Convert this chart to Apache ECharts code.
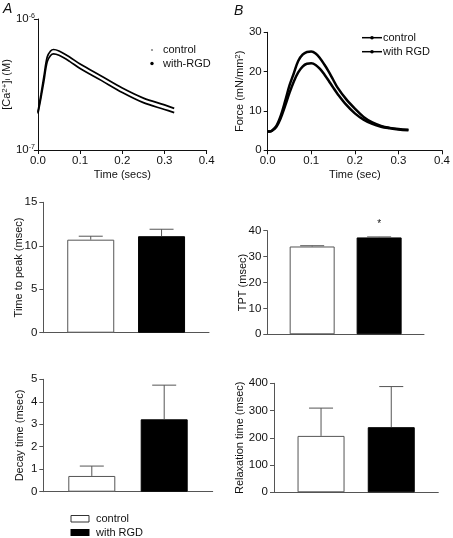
<!DOCTYPE html>
<html><head><meta charset="utf-8">
<script src="https://cdn.jsdelivr.net/npm/echarts@6/dist/echarts.min.js"></script>
<style>html,body{margin:0;padding:0;background:#fff}#c{width:453px;height:538px}</style>
</head><body><div id="c"></div>
<script>
// ---- Panel A: [Ca2+]i transients (M) ----
const caTime = [0, 0.007, 0.014, 0.022, 0.03, 0.037, 0.05, 0.075, 0.1, 0.15, 0.2, 0.25, 0.3, 0.323];
const caControl = [1.95e-7, 2.63e-7, 3.61e-7, 5.13e-7, 5.70e-7, 5.85e-7, 5.70e-7, 5.13e-7, 4.53e-7, 3.67e-7, 2.97e-7, 2.49e-7, 2.21e-7, 2.08e-7];
const caRGD = [1.90e-7, 2.48e-7, 3.33e-7, 4.72e-7, 5.27e-7, 5.42e-7, 5.28e-7, 4.75e-7, 4.19e-7, 3.40e-7, 2.75e-7, 2.30e-7, 2.04e-7, 1.93e-7];
// ---- Panel B: Force (mN/mm2) ----
const fTime = [0, 0.005, 0.01, 0.02, 0.03, 0.04, 0.05, 0.06, 0.07, 0.08, 0.09, 0.1, 0.11, 0.12, 0.13, 0.14, 0.15, 0.16, 0.18, 0.2, 0.22, 0.24, 0.26, 0.28, 0.3, 0.323];
const fControl = [4.8, 4.8, 5.0, 6.2, 8.8, 12.5, 16.5, 19.6, 22.7, 24.3, 25.0, 25.1, 24.6, 23.4, 21.8, 20.0, 18.0, 16.0, 13.0, 10.6, 8.5, 7.1, 6.2, 5.7, 5.4, 5.2];
const fRGD = [4.8, 4.8, 5.0, 6.0, 8.2, 11.3, 14.6, 17.5, 19.8, 21.3, 22.0, 22.1, 21.7, 20.7, 19.3, 17.7, 16.0, 14.4, 11.6, 9.4, 7.8, 6.7, 6.0, 5.6, 5.3, 5.1];
// ---- Bar panels ----
const groups = ['control', 'with RGD'];
const ttpMean = [10.7, 11.1], ttpErr = [0.4, 0.8];
const tptMean = [33.9, 37.4], tptErr = [0.3, 0.2];
const decayMean = [0.70, 3.22], decayErr = [0.44, 1.52];
const relaxMean = [207, 239], relaxErr = [102, 149];
const tptSignif = [null, 42.5];

const FONT = 'Liberation Sans, Arial, sans-serif';
const chart = echarts.init(document.getElementById('c'), null, {renderer: 'canvas'});

const pairs = (xs, ys) => xs.map((x, i) => [x, ys[i]]);
const barData = (means) => means.map((m, i) => ({value: [i + 1, m], itemStyle: i === 0 ? {color: '#fff', borderColor: '#555', borderWidth: 1} : {color: '#000', borderColor: '#000', borderWidth: 1}}));
const errData = (means, errs) => means.map((m, i) => [i + 1, m, errs[i]]);

function errRender(params, api) {
  const x = api.value(0), m = api.value(1), e = api.value(2);
  const p0 = api.coord([x, m]), p1 = api.coord([x, m + e]);
  const st = {stroke: '#555', lineWidth: 1};
  return {type: 'group', children: [
    {type: 'line', shape: {x1: p0[0], y1: p0[1], x2: p1[0], y2: p1[1]}, style: st},
    {type: 'line', shape: {x1: p1[0] - 12, y1: p1[1], x2: p1[0] + 12, y2: p1[1]}, style: st}
  ]};
}
function starRender(params, api) {
  const p = api.coord([api.value(0), api.value(1)]);
  return {type: 'text', x: p[0], y: p[1], style: {text: '*', fontSize: 10, fontFamily: FONT, fill: '#111', align: 'center', verticalAlign: 'middle'}};
}

const tickLbl = {color: '#111', fontSize: 11.5, fontFamily: FONT};
const nameSty = {color: '#111', fontSize: 11, fontFamily: FONT};

function barX(gi) {
  return {gridIndex: gi, type: 'value', min: 0.33, max: 2.67, axisLine: {show: true, lineStyle: {color: '#555', width: 1}}, axisTick: {show: false}, axisLabel: {show: false}, splitLine: {show: false}};
}
function barY(gi, max, interval, name, gap) {
  return {gridIndex: gi, type: 'value', min: 0, max: max, interval: interval, name: name, nameLocation: 'middle', nameGap: gap, nameRotate: 90, nameTextStyle: nameSty, nameMoveOverlap: false,
    axisLine: {show: true, lineStyle: {color: '#555', width: 1}}, axisTick: {show: true, length: 4, lineStyle: {color: '#555'}}, axisLabel: Object.assign({margin: 6}, tickLbl), splitLine: {show: false}};
}
function timeX(gi, name) {
  return {gridIndex: gi, type: 'value', min: 0, max: 0.4, interval: 0.1, name: name, nameLocation: 'middle', nameGap: 19, nameTextStyle: nameSty,
    axisLine: {show: true, lineStyle: {color: '#111', width: 1}}, axisTick: {show: true, length: 4, lineStyle: {color: '#111'}},
    axisLabel: Object.assign({margin: 5, formatter: v => v.toFixed(1)}, tickLbl), splitLine: {show: false}};
}

const option = {
  animation: false,
  backgroundColor: '#fff',
  grid: [
    {left: 30.3, top: 19, width: 176.4, height: 131},
    {left: 267.7, top: 32.3, width: 178, height: 118},
    {left: 43.3, top: 202.3, width: 165.7, height: 130.4},
    {left: 267.3, top: 230.7, width: 156.7, height: 103.6},
    {left: 43.3, top: 379.3, width: 169.4, height: 112.4},
    {left: 274, top: 383.3, width: 164.3, height: 109}
  ],
  xAxis: [timeX(0, 'Time (secs)'), timeX(1, 'Time (sec)'), barX(2), barX(3), barX(4), barX(5)],
  yAxis: [
    {gridIndex: 0, type: 'log', logBase: 10, min: 1e-7, max: 1e-6,
      name: '[Ca{sup|2+}]{sub|i} (M)', nameLocation: 'middle', nameGap: 9, nameRotate: 90,
      nameTextStyle: Object.assign({rich: {sup: {fontSize: 8, fontFamily: FONT, color: '#111', verticalAlign: 'top', lineHeight: 8}, sub: {fontSize: 8, fontFamily: FONT, color: '#111', verticalAlign: 'bottom', lineHeight: 8}}}, nameSty),
      axisLine: {show: true, lineStyle: {color: '#111'}}, axisTick: {show: true, length: 4, lineStyle: {color: '#111'}}, minorTick: {show: false},
      axisLabel: Object.assign({margin: 3, formatter: v => '10{s|' + Math.round(Math.log10(v)) + '}', rich: {s: {fontSize: 7, fontFamily: FONT, color: '#111', verticalAlign: 'top', lineHeight: 8}}}, tickLbl),
      splitLine: {show: false}},
    {gridIndex: 1, type: 'value', min: 0, max: 30, interval: 10,
      name: 'Force (mN/mm{s|2})', nameLocation: 'middle', nameGap: 17, nameRotate: 90,
      nameTextStyle: Object.assign({rich: {s: {fontSize: 8, fontFamily: FONT, color: '#111', verticalAlign: 'top', lineHeight: 8}}}, nameSty),
      axisLine: {show: true, lineStyle: {color: '#111'}}, axisTick: {show: true, length: 4, lineStyle: {color: '#111'}},
      axisLabel: Object.assign({margin: 6}, tickLbl), splitLine: {show: false}},
    barY(2, 15, 5, 'Time to peak (msec)', 19),
    barY(3, 40, 10, 'TPT (msec)', 19),
    barY(4, 5, 1, 'Decay time (msec)', 18),
    barY(5, 400, 100, 'Relaxation time (msec)', 29)
  ],
  series: [
    {type: 'line', name: 'control', xAxisIndex: 0, yAxisIndex: 0, data: pairs(caTime, caControl), smooth: 0.35, showSymbol: false, lineStyle: {color: '#000', width: 1.7}},
    {type: 'line', name: 'with-RGD', xAxisIndex: 0, yAxisIndex: 0, data: pairs(caTime, caRGD), smooth: 0.35, showSymbol: false, lineStyle: {color: '#000', width: 1.7}},
    {type: 'line', name: 'control', xAxisIndex: 1, yAxisIndex: 1, data: pairs(fTime, fControl), smooth: 0.35, showSymbol: false, lineStyle: {color: '#000', width: 2.5}},
    {type: 'line', name: 'with RGD', xAxisIndex: 1, yAxisIndex: 1, data: pairs(fTime, fRGD), smooth: 0.35, showSymbol: false, lineStyle: {color: '#000', width: 2.5}},
    {type: 'bar', xAxisIndex: 2, yAxisIndex: 2, data: barData(ttpMean), barWidth: 47},
    {type: 'custom', xAxisIndex: 2, yAxisIndex: 2, data: errData(ttpMean, ttpErr), renderItem: errRender, z: 5},
    {type: 'bar', xAxisIndex: 3, yAxisIndex: 3, data: barData(tptMean), barWidth: 45},
    {type: 'custom', xAxisIndex: 3, yAxisIndex: 3, data: errData(tptMean, tptErr), renderItem: errRender, z: 5},
    {type: 'custom', xAxisIndex: 3, yAxisIndex: 3, renderItem: starRender, z: 6,
      data: tptSignif.map((v, i) => v == null ? null : [i + 1, v]).filter(d => d)},
    {type: 'bar', xAxisIndex: 4, yAxisIndex: 4, data: barData(decayMean), barWidth: 47},
    {type: 'custom', xAxisIndex: 4, yAxisIndex: 4, data: errData(decayMean, decayErr), renderItem: errRender, z: 5},
    {type: 'bar', xAxisIndex: 5, yAxisIndex: 5, data: barData(relaxMean), barWidth: 47},
    {type: 'custom', xAxisIndex: 5, yAxisIndex: 5, data: errData(relaxMean, relaxErr), renderItem: errRender, z: 5}
  ],
  graphic: [
    {type: 'text', left: 3, top: 2, style: {text: 'A', fontSize: 14, fontStyle: 'italic', fontFamily: FONT, fill: '#111'}},
    {type: 'text', left: 234, top: 4, style: {text: 'B', fontSize: 14, fontStyle: 'italic', fontFamily: FONT, fill: '#111'}},
    // legend A
    {type: 'circle', shape: {cx: 152, cy: 50, r: 1.1}, style: {fill: '#888'}},
    {type: 'text', x: 163, y: 50, style: {text: groups[0], fontSize: 11, fontFamily: FONT, fill: '#111', verticalAlign: 'middle'}},
    {type: 'circle', shape: {cx: 152, cy: 63.5, r: 1.7}, style: {fill: '#000'}},
    {type: 'text', x: 163, y: 63.5, style: {text: 'with-RGD', fontSize: 11, fontFamily: FONT, fill: '#111', verticalAlign: 'middle'}},
    // legend B
    {type: 'line', shape: {x1: 362, y1: 37.7, x2: 382, y2: 37.7}, style: {stroke: '#000', lineWidth: 1.5}},
    {type: 'circle', shape: {cx: 372, cy: 37.7, r: 1.8}, style: {fill: '#000'}},
    {type: 'text', x: 383, y: 37.7, style: {text: groups[0], fontSize: 11, fontFamily: FONT, fill: '#111', verticalAlign: 'middle'}},
    {type: 'line', shape: {x1: 362, y1: 51.7, x2: 382, y2: 51.7}, style: {stroke: '#000', lineWidth: 1.5}},
    {type: 'circle', shape: {cx: 372, cy: 51.7, r: 1.8}, style: {fill: '#000'}},
    {type: 'text', x: 383, y: 51.7, style: {text: groups[1], fontSize: 11, fontFamily: FONT, fill: '#111', verticalAlign: 'middle'}},
    // bottom legend
    {type: 'rect', shape: {x: 71, y: 515.5, width: 18, height: 6.5}, style: {fill: '#fff', stroke: '#333', lineWidth: 1}},
    {type: 'text', x: 96, y: 518.5, style: {text: groups[0], fontSize: 11, fontFamily: FONT, fill: '#111', verticalAlign: 'middle'}},
    {type: 'rect', shape: {x: 70.5, y: 529, width: 19, height: 7}, style: {fill: '#000'}},
    {type: 'text', x: 96, y: 532.5, style: {text: groups[1], fontSize: 11, fontFamily: FONT, fill: '#111', verticalAlign: 'middle'}}
  ]
};
chart.setOption(option);
</script>
</body></html>
